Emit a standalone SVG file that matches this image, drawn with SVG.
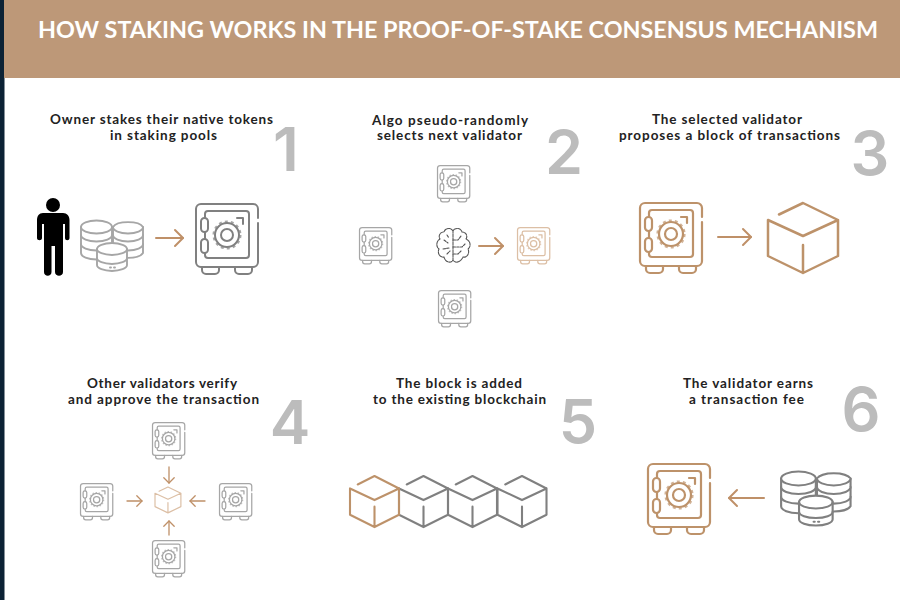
<svg xmlns="http://www.w3.org/2000/svg" width="900" height="600" viewBox="0 0 900 600">
<style>
text{font-family:"Lato","Liberation Sans",sans-serif}
.title{font-size:23px;font-weight:700;fill:#fff;text-anchor:start}
.t{font-size:13.500px;font-weight:700;fill:#222;text-anchor:start}
.n{font-family:"Inter","Liberation Sans",sans-serif;font-size:61px;font-weight:600;fill:#bcbcbc;text-anchor:middle}
.ic{fill:none;stroke:currentColor;stroke-linecap:round;stroke-linejoin:round}
.gr{color:#808080}.lg{color:#a6a6a6}.br{color:#bd926a}.lb{color:#dcbfa5}
.a{fill:none;stroke:#bf9068;stroke-linecap:round;marker-end:url(#arr)}
</style>
<defs>
<marker id="arr" markerUnits="strokeWidth" markerWidth="8" markerHeight="10" refX="5" refY="5" orient="auto" overflow="visible"><path d="M1 1L5 5L1 9" fill="none" stroke="#bf9068" stroke-width="1" stroke-linecap="round" stroke-linejoin="round"/></marker>
<g id="safe" class="ic">
<path d="M63 15V6a5 5 0 0 0-5-5H6a5 5 0 0 0-5 5V59a5 5 0 0 0 5 5H58a5 5 0 0 0 5-5V20"/>
<path d="M10 15V11a3 3 0 0 1 3-3H51a3 3 0 0 1 3 3V52a3 3 0 0 1-3 3H13a3 3 0 0 1-3-3V50M10 36V29"/>
<rect x="6" y="15" width="7" height="14" rx="3.500"/><rect x="6" y="36" width="7" height="14" rx="3.500"/>
<circle cx="32" cy="32" r="6"/><circle cx="32" cy="32" r="12"/><circle cx="32" cy="32" r="13.500" stroke-dasharray="3 3.100" stroke-linecap="butt" stroke-opacity=".7"/>
<path d="M42 15H48V21"/>
<path d="M7 64v3a4 4 0 0 0 4 4h9a4 4 0 0 0 4-4v-3M40 64v3a4 4 0 0 0 4 4h9a4 4 0 0 0 4-4v-3"/>
</g>
<g id="cube" class="ic"><path d="M11 11.500L35 0L70 17L35 33L0 17V53L35 70L70 53V17M35 42V70"/></g>
<g id="coins" class="ic">
<g fill="#fff">
<path d="M1 7A15.500 6.500 0 0 1 32 7V33A15.500 6.500 0 0 1 1 33Z"/>
<path d="M1 7A15.500 6.500 0 0 0 32 7M1 15A15.500 6.500 0 0 0 32 15M1 24A15.500 6.500 0 0 0 32 24"/>
<path d="M33 7A15.500 6.500 0 0 1 63 7V33A15.500 6.500 0 0 1 33 33Z"/>
<path d="M33 7A15 6.500 0 0 0 63 7M33 15A15 6.500 0 0 0 63 15M33 24A15 6.500 0 0 0 63 24"/>
<path d="M17 29A15 6 0 0 1 47 29V45A15 6 0 0 1 17 45Z"/>
<path d="M17 29A15 6 0 0 0 47 29M17 38A15 6 0 0 0 47 38" fill="none"/>
</g>
<path d="M30 47.500h1M34 47.500h1"/>
</g>
</defs>
<rect width="900" height="600" fill="#fff"/>
<rect width="4.500" height="600" fill="#0c2235"/>
<g id="header"><rect x="4" width="896" height="78" fill="#bd9878"/>
<text class="title" x="38" y="38" textLength="840" lengthAdjust="spacingAndGlyphs">HOW STAKING WORKS IN THE PROOF-OF-STAKE CONSENSUS MECHANISM</text></g>

<g id="step1">
<text class="t" x="50" y="124" textLength="223">Owner stakes their native tokens</text>
<text class="t" x="110" y="140" textLength="107">in staking pools</text>
<text class="n" x="286" y="171">1</text>
<g id="person" fill="#000"><circle cx="53" cy="205" r="7"/><path d="M43 213H63C67 213 69.500 216 69.500 220V238C69.500 241 65 241 65 238V224H63V272C63 277 55 277 55 272V246H51.500V272C51.500 277 44 277 44 272V224H42V238C42 241 37 241 37 238V220C37 216 39 213 43 213Z"/></g>
<g id="coins1" class="lg" transform="translate(80 220)" stroke-width="1.900"><use href="#coins"/></g>
<g id="safe1" class="gr" transform="translate(195 203)" stroke-width="2"><use href="#safe"/></g>
</g>

<g id="step2">
<text class="t" x="372" y="124.500" textLength="156">Algo pseudo-randomly</text>
<text class="t" x="377" y="140" textLength="145">selects next validator</text>
<text class="n" x="564" y="174">2</text>
<g id="safe2a" class="lg" transform="translate(437 165) scale(.52)" stroke-width="2.400"><use href="#safe"/></g>
<g id="safe2b" class="lg" transform="translate(359 227) scale(.52)" stroke-width="2.400"><use href="#safe"/></g>
<g id="safe2c" class="lb" transform="translate(517 227) scale(.52)" stroke-width="2.400"><use href="#safe"/></g>
<g id="safe2d" class="lg" transform="translate(438 290) scale(.52)" stroke-width="2.400"><use href="#safe"/></g>
<g id="brain" class="ic" style="color:#555" stroke-width="1.100">
<path d="M453 231C451 227 445 228 444 232C440 232 438 236 440 239C436 241 436 247 439 249C437 253 440 258 444 257C445 262 451 264 453 260V231C455 227 461 228 462 232C466 232 468 236 466 239C471 241 471 247 468 249C470 253 467 258 463 257C461 262 455 264 453 260" stroke-dasharray="3 1"/>
<path d="M453 240H458L461 236M453 247H462L465 244M453 254H458L461 251M444 240L448 243M443 249L449 248M447 254L450 251M447 235L449 238" stroke-dasharray="2.500 1.200"/>
</g>
</g>

<g id="step3">
<text class="t" x="652" y="123.500" textLength="150">The selected validator</text>
<text class="t" x="619" y="139.500" textLength="221">proposes a block of transactions</text>
<text class="n" x="870" y="175">3</text>
<g id="safe3" class="br" transform="translate(639 202)" stroke-width="2.200"><use href="#safe"/></g>
<g id="cube3" class="br" transform="translate(768 203)" stroke-width="2.500"><use href="#cube"/></g>
</g>

<g id="step4">
<text class="t" x="87" y="388" textLength="150">Other validators verify</text>
<text class="t" x="68" y="403.500" textLength="191">and approve the transaction</text>
<text class="n" x="290" y="444">4</text>
<g id="safe4a" class="lg" transform="translate(152 422) scale(.52)" stroke-width="2.400"><use href="#safe"/></g>
<g id="safe4b" class="lg" transform="translate(80 483) scale(.52)" stroke-width="2.400"><use href="#safe"/></g>
<g id="safe4c" class="lg" transform="translate(219 483) scale(.52)" stroke-width="2.400"><use href="#safe"/></g>
<g id="safe4d" class="lg" transform="translate(152 540) scale(.52)" stroke-width="2.400"><use href="#safe"/></g>
<g id="cube4" class="lb" transform="translate(155 487) scale(.37)" stroke-width="3.200"><use href="#cube"/></g>
</g>

<g id="step5">
<text class="t" x="396" y="388" textLength="126">The block is added</text>
<text class="t" x="373" y="403.500" textLength="173">to the existing blockchain</text>
<text class="n" x="578" y="443">5</text>
<g id="cube5d" class="gr" transform="translate(497.500 476) scale(.7 .73)" stroke-width="3"><use href="#cube"/></g>
<g id="cube5c" class="gr" transform="translate(448 476) scale(.7 .73)" stroke-width="3"><use href="#cube"/></g>
<g id="cube5b" class="gr" transform="translate(399 476) scale(.7 .73)" stroke-width="3"><use href="#cube"/></g>
<g id="cube5a" class="br" transform="translate(350 476) scale(.7 .73)" stroke-width="3"><use href="#cube"/></g>
</g>

<g id="step6">
<text class="t" x="683" y="388" textLength="130">The validator earns</text>
<text class="t" x="689" y="403.500" textLength="115">a transaction fee</text>
<text class="n" x="861" y="431">6</text>
<g id="safe6" class="br" transform="translate(647 463)" stroke-width="2.200"><use href="#safe"/></g>
<g id="coins6" class="gr" transform="translate(780 471) scale(1.120 1.070)" stroke-width="1.900"><use href="#coins"/></g>
</g>

<g id="connectors">
<path class="a" stroke-width="2" d="M156 238H183"/>
<path class="a" stroke-width="2" d="M479 246H503"/>
<path class="a" stroke-width="2" d="M718 237H751"/>
<path class="a" stroke-width="1.300" d="M169 467V483"/>
<path class="a" stroke-width="1.300" d="M127 501H142"/>
<path class="a" stroke-width="1.300" d="M205 501H190"/>
<path class="a" stroke-width="1.300" d="M169 535V521"/>
<path class="a" stroke-width="2" d="M764 498H729"/>
</g>
</svg>
